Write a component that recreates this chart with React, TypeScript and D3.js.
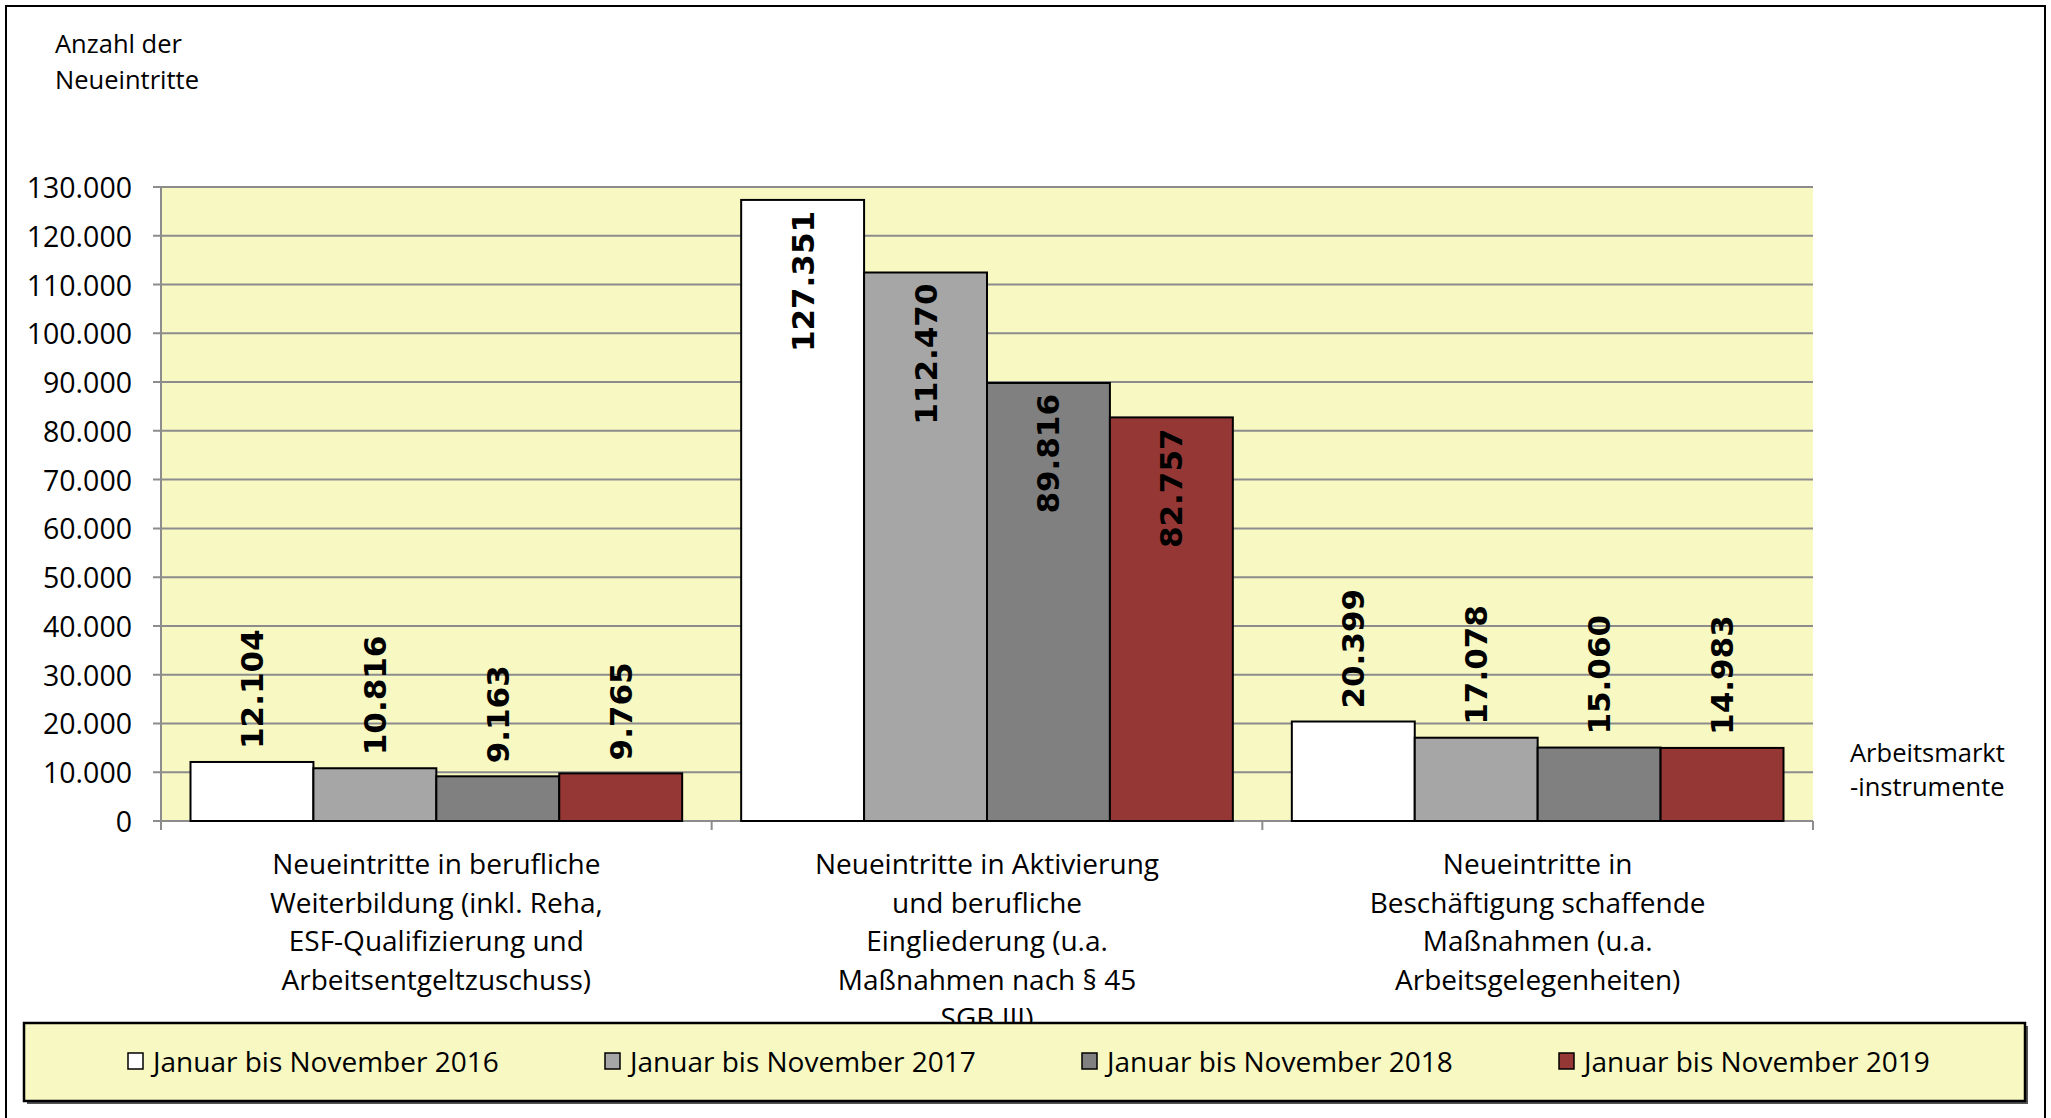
import * as d3 from "d3";

const categories = [
  ["Neueintritte in berufliche", "Weiterbildung (inkl. Reha,", "ESF-Qualifizierung und", "Arbeitsentgeltzuschuss)"],
  ["Neueintritte in Aktivierung", "und berufliche", "Eingliederung (u.a.", "Maßnahmen nach § 45", "SGB III)"],
  ["Neueintritte in", "Beschäftigung schaffende", "Maßnahmen (u.a.", "Arbeitsgelegenheiten)"],
];
const seriesNames = [
  "Januar bis November 2016",
  "Januar bis November 2017",
  "Januar bis November 2018",
  "Januar bis November 2019",
];
const values2016 = [12104, 127351, 20399];
const values2017 = [10816, 112470, 17078];
const values2018 = [9163, 89816, 15060];
const values2019 = [9765, 82757, 14983];
const seriesValues = [values2016, values2017, values2018, values2019];
const seriesColors = ["#FFFFFF", "#A6A6A6", "#808080", "#953735"];
const yTicks = [0, 10000, 20000, 30000, 40000, 50000, 60000, 70000, 80000, 90000, 100000, 110000, 120000, 130000];

const W = 2051;
const H = 1118;
const plot = { left: 161, right: 1813, top: 187, bottom: 821 };
const font = "'Open Sans', 'Noto Sans', sans-serif";
const bg = "#F8F8C3";

const de = d3.formatLocale({ decimal: ",", thousands: ".", grouping: [3], currency: ["", " €"] });
const fmt = de.format(",d");

export default function App() {
  const y = d3.scaleLinear().domain([0, 130000]).range([plot.bottom, plot.top]);
  const x0 = d3
    .scaleBand<number>()
    .domain(categories.map((_, i) => i))
    .range([plot.left, plot.right])
    .padding(0);
  const x1 = d3
    .scaleBand<number>()
    .domain(seriesNames.map((_, i) => i))
    .range([0, x0.bandwidth()])
    .paddingInner(0)
    .paddingOuter(0.24);
  const boundaries = [...categories.map((_, i) => x0(i) as number), plot.right];

  return (
    <svg
      width={W}
      height={H}
      style={{ position: "absolute", left: 0, top: 0, display: "block", background: "#fff" }}
    >
      <rect x={6} y={6} width={2039} height={1130} fill="#fff" stroke="#000" strokeWidth={2} />

      <text x={55} y={43} fontFamily={font} fontSize={25.5} dominantBaseline="central">Anzahl der</text>
      <text x={55} y={79} fontFamily={font} fontSize={25.5} dominantBaseline="central">Neueintritte</text>

      <rect x={plot.left} y={plot.top} width={plot.right - plot.left} height={plot.bottom - plot.top} fill={bg} />

      {yTicks.map((t) => (
        <g key={t}>
          <line x1={153} x2={plot.right} y1={y(t)} y2={y(t)} stroke="#8C8C8C" strokeWidth={2} />
          <text
            x={132}
            y={y(t)}
            textAnchor="end"
            dominantBaseline="central"
            fontFamily={font}
            fontSize={28.5}
          >
            {fmt(t)}
          </text>
        </g>
      ))}
      <line x1={plot.left} x2={plot.left} y1={plot.top} y2={plot.bottom} stroke="#8C8C8C" strokeWidth={2} />
      {boundaries.map((b, i) => (
        <line key={i} x1={b} x2={b} y1={plot.bottom} y2={plot.bottom + 9} stroke="#8C8C8C" strokeWidth={2} />
      ))}

      {categories.map((_, ci) =>
        seriesValues.map((vals, si) => {
          const bx = (x0(ci) as number) + (x1(si) as number);
          const bw = x1.bandwidth();
          const v = vals[ci];
          const top = y(v);
          const cx = bx + bw / 2;
          const inside = v > 50000;
          return (
            <g key={`${ci}-${si}`}>
              <rect
                x={bx}
                y={top}
                width={bw}
                height={plot.bottom - top}
                fill={seriesColors[si]}
                stroke="#000"
                strokeWidth={2}
              />
              <text
                transform={`translate(${cx},${inside ? top + 11 : top - 13}) rotate(-90)`}
                textAnchor={inside ? "end" : "start"}
                dominantBaseline="central"
                fontFamily="'DejaVu Sans', sans-serif"
                fontWeight="bold"
                fontSize={31}
              >
                {fmt(v)}
              </text>
            </g>
          );
        })
      )}

      {categories.map((lines, ci) => (
        <g key={ci}>
          {lines.map((ln, li) => (
            <text
              key={li}
              x={(x0(ci) as number) + x0.bandwidth() / 2}
              y={863 + li * 38.6}
              textAnchor="middle"
              dominantBaseline="central"
              fontFamily={font}
              fontSize={28}
            >
              {ln}
            </text>
          ))}
        </g>
      ))}

      <text x={1850} y={752} fontFamily={font} fontSize={25.5} dominantBaseline="central">Arbeitsmarkt</text>
      <text x={1850} y={786} fontFamily={font} fontSize={25.5} dominantBaseline="central">-instrumente</text>

      <rect x={27} y={1026} width={2001} height={78} fill="#555" />
      <rect x={24} y={1023} width={2001} height={78} fill={bg} stroke="#000" strokeWidth={2.5} />
      {seriesNames.map((s, i) => (
        <g key={s} transform={`translate(${128 + i * 477},1061)`}>
          <rect x={0} y={-8} width={15} height={16} fill={seriesColors[i]} stroke="#000" strokeWidth={1.5} />
          <text x={25} y={0} dominantBaseline="central" fontFamily={font} fontSize={28}>
            {s}
          </text>
        </g>
      ))}
    </svg>
  );
}
